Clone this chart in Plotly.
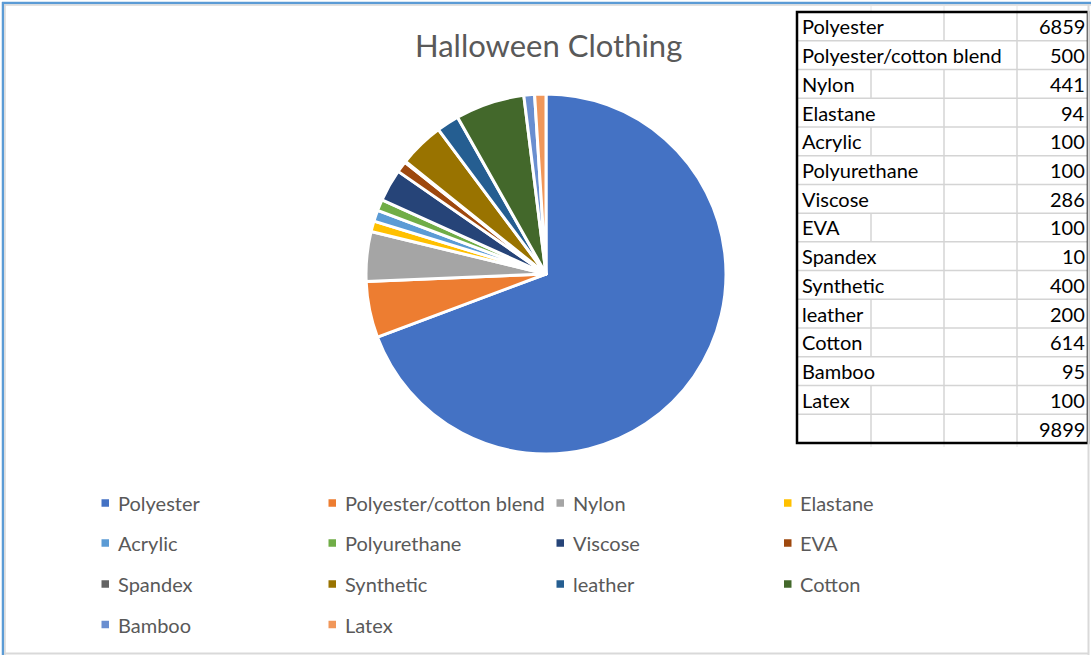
import plotly.graph_objects as go

# ---- data ----
labels = ["Polyester", "Polyester/cotton blend", "Nylon", "Elastane", "Acrylic",
          "Polyurethane", "Viscose", "EVA", "Spandex", "Synthetic", "leather",
          "Cotton", "Bamboo", "Latex"]
values = [6859, 500, 441, 94, 100, 100, 286, 100, 10, 400, 200, 614, 95, 100]
total = 9899
colors = ["#4472C4", "#ED7D31", "#A5A5A5", "#FFC000", "#5B9BD5", "#70AD47",
          "#264478", "#9E480E", "#636363", "#997300", "#255E91", "#43682B",
          "#698ED0", "#F1975A"]
# number of spreadsheet columns each label text spans (hides gridlines)
label_spans = [2, 3, 1, 2, 1, 2, 2, 1, 2, 2, 1, 1, 2, 1]
title = "Halloween Clothing"

W, H = 1091, 655
def px(x):
    return x / W
def py(y):
    return 1 - y / H

FONT = "Lato"
GRAY_TXT = "#595959"

# pie geometry (pixels)
cx, cy, r = 546, 274, 180

fig = go.Figure()
fig.add_trace(go.Pie(
    labels=labels, values=values, sort=False, direction="clockwise", rotation=0,
    marker=dict(colors=colors, line=dict(color="white", width=3)),
    textinfo="none", showlegend=False,
    domain=dict(x=[px(cx - r), px(cx + r)], y=[py(cy + r), py(cy - r)]),
))

shapes = []
annotations = []

# title
annotations.append(dict(text=title, x=px(548), y=py(45), xref="paper", yref="paper",
                        showarrow=False, xanchor="center", yanchor="middle",
                        font=dict(family=FONT, size=31, color=GRAY_TXT)))

# custom legend (4 columns)
col_x = [101.5, 328.5, 556.5, 784]
row_y = [503, 543, 584, 624.5]
for i, (lab, col) in enumerate(zip(labels, colors)):
    c, rr = i % 4, i // 4
    mx, my = col_x[c], row_y[rr]
    shapes.append(dict(type="rect", xref="paper", yref="paper",
                       x0=px(mx), x1=px(mx + 7.5), y0=py(my + 3.75), y1=py(my - 3.75),
                       fillcolor=col, line=dict(width=0)))
    annotations.append(dict(text=lab, x=px(mx + 14), y=py(my), xref="paper", yref="paper",
                            showarrow=False, xanchor="left", yanchor="middle",
                            font=dict(family=FONT, size=20, color=GRAY_TXT)))

# data table (spreadsheet cells)
t_left, t_right, t_top, t_bot = 797, 1088, 12, 443
n_rows = len(labels) + 1
rh = (t_bot - t_top) / n_rows
grid_x = [871, 944, 1017]
GRID = "#D4D4D4"
for k in range(1, n_rows):
    yk = t_top + rh * k
    shapes.append(dict(type="line", xref="paper", yref="paper",
                       x0=px(t_left), x1=px(t_right), y0=py(yk), y1=py(yk),
                       line=dict(color=GRID, width=1.5)))
spans = label_spans + [1]
for k in range(n_rows):
    y0, y1 = t_top + rh * k, t_top + rh * (k + 1)
    for j, gx in enumerate(grid_x):
        if j + 1 >= spans[k]:
            shapes.append(dict(type="line", xref="paper", yref="paper",
                               x0=px(gx), x1=px(gx), y0=py(y0), y1=py(y1),
                               line=dict(color=GRID, width=1.5)))
# faint gridline stubs above/below the table
for gx in grid_x:
    shapes.append(dict(type="line", xref="paper", yref="paper",
                       x0=px(gx), x1=px(gx), y0=py(6), y1=py(t_top),
                       line=dict(color="#E6E6E6", width=1)))
    shapes.append(dict(type="line", xref="paper", yref="paper",
                       x0=px(gx), x1=px(gx), y0=py(t_bot), y1=py(t_bot + 4),
                       line=dict(color="#E6E6E6", width=1)))
# outer table border
shapes.append(dict(type="rect", xref="paper", yref="paper",
                   x0=px(t_left), x1=px(t_right), y0=py(t_bot), y1=py(t_top),
                   line=dict(color="black", width=2.5)))

row_labels = labels + [""]
row_values = values + [total]
for k, (lab, val) in enumerate(zip(row_labels, row_values)):
    yc = t_top + rh * (k + 0.5)
    if lab:
        annotations.append(dict(text=lab, x=px(800), y=py(yc), xref="paper", yref="paper",
                                showarrow=False, xanchor="left", yanchor="middle",
                                font=dict(family=FONT, size=20, color="black")))
    annotations.append(dict(text=str(val), x=px(1087), y=py(yc), xref="paper", yref="paper",
                            showarrow=False, xanchor="right", yanchor="middle",
                            font=dict(family=FONT, size=20, color="black")))

# chart frame (blue selection top/left, gray right/bottom)
shapes += [
    dict(type="line", xref="paper", yref="paper", x0=px(2), x1=px(W), y0=py(3), y1=py(3),
         line=dict(color="#5B9BD5", width=2.5)),
    dict(type="line", xref="paper", yref="paper", x0=px(3), x1=px(3), y0=py(2), y1=py(H),
         line=dict(color="#5B9BD5", width=2.5)),
    dict(type="line", xref="paper", yref="paper", x0=px(4), x1=px(W), y0=py(5), y1=py(5),
         line=dict(color="#D9D9D9", width=1.5)),
    dict(type="line", xref="paper", yref="paper", x0=px(5), x1=px(5), y0=py(4), y1=py(H),
         line=dict(color="#D9D9D9", width=1.5)),
    dict(type="line", xref="paper", yref="paper", x0=px(1088.5), x1=px(1088.5), y0=py(4), y1=py(H),
         line=dict(color="#D9D9D9", width=2)),
    dict(type="line", xref="paper", yref="paper", x0=px(4), x1=px(1089), y0=py(653.5), y1=py(653.5),
         line=dict(color="#D9D9D9", width=2)),
]

fig.update_layout(
    width=W, height=H, margin=dict(l=0, r=0, t=0, b=0),
    paper_bgcolor="white", plot_bgcolor="white",
    shapes=shapes, annotations=annotations, showlegend=False,
    font=dict(family=FONT),
)

fig.write_html("out.html", config={"displayModeBar": False},
               post_script="document.body.style.margin='0';document.body.style.overflow='hidden';")
